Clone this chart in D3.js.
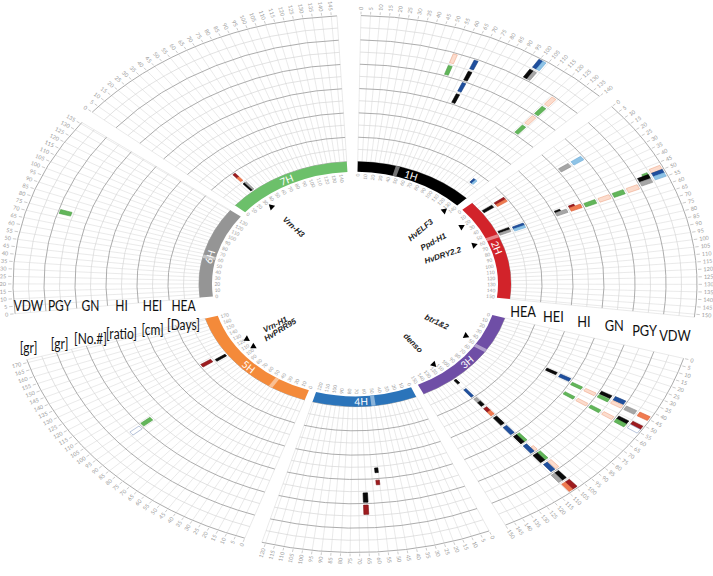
<!DOCTYPE html>
<html>
<head>
<meta charset="utf-8">
<script src="https://cdn.jsdelivr.net/npm/d3@7"></script>
<style>
  body { margin: 0; background: #fff; }
  svg { display: block; }
</style>
</head>
<body>
<div id="viz"></div>
<script>
// chromosomes, their length in cM and band colours
const chromosomes = ["1H", "2H", "3H", "4H", "5H", "6H", "7H"]
const chrLength = [140, 152, 150, 122, 172, 136, 148]
const chrColor = ["#000000", "#d2232a", "#6f4ea6", "#2b74ba", "#f48a3a", "#959595", "#6cc06a"]
const centromere = [47, 57, 53, 51, 44, 61, null]
const chrLabelPos = [66, 73, 80, 65, 83, 62, 72]

// traits (one track each, two lanes per track) and units
const traits = ["HEA", "HEI", "HI", "GN", "PGY", "VDW"]
const units = ["[Days]", "[cm]", "[ratio]", "[No.#]", "[gr]", "[gr]"]

// candidate genes: name, chromosome, position (cM)
const genes = [
  ["HvELF3", "1H", 134], ["Ppd-H1", "2H", 22], ["HvDRY2.2", "2H", 59],
  ["btr1&2", "3H", 46], ["denso", "3H", 114],
  ["HvPRR95", "5H", 104], ["Vrn-H1", "5H", 120], ["Vrn-H3", "7H", 31]
]

// QTL: chromosome, lane (0-11), from cM, to cM, group, part (0 full, -1 inner half, 1 outer half)
const qtl = [
  ["1H", 8, 55, 57.5, "green"], ["1H", 9, 55, 57.5, "peach"],
  ["1H", 6, 68, 70.5, "black"], ["1H", 7, 68, 70.5, "blue"], ["1H", 8, 68, 70.5, "black"], ["1H", 9, 68, 70.5, "blue"],
  ["1H", 10, 99, 101.5, "black"], ["1H", 10, 101.5, 103.5, "gray"], ["1H", 11, 99.5, 102, "blue"], ["1H", 11, 102, 104, "lblue"],
  ["1H", 6, 121, 124, "green"], ["1H", 7, 121, 124, "peach"], ["1H", 8, 121, 124, "green"], ["1H", 9, 121, 124, "peach"],
  ["1H", 1, 127, 129.5, "blue", -1], ["1H", 1, 129.5, 131.5, "lblue", -1],

  ["2H", 0, 16, 19.5, "black"], ["2H", 1, 15, 18, "red"], ["2H", 1, 18, 21, "orange"],
  ["2H", 0, 51, 54, "black"], ["2H", 0, 54, 57, "gray"], ["2H", 1, 52, 55, "blue"], ["2H", 1, 55, 58, "lblue"],
  ["2H", 6, 17.5, 21, "gray"], ["2H", 7, 17.5, 21, "lblue"],
  ["2H", 4, 51.5, 53.5, "black", -1], ["2H", 4, 53.5, 57, "gray"], ["2H", 5, 51.5, 53.5, "red", -1], ["2H", 5, 53.5, 57, "orange"],
  ["2H", 6, 54, 57.5, "green"], ["2H", 7, 54, 57.5, "peach"], ["2H", 8, 54, 57.5, "green"], ["2H", 9, 54, 57.5, "peach"],
  ["2H", 10, 48.5, 52, "green", 1], ["2H", 10, 50, 53, "black"], ["2H", 10, 53, 56, "gray"],
  ["2H", 11, 47, 50, "peach"], ["2H", 11, 50, 52.5, "blue"], ["2H", 11, 52.5, 55, "lblue"],

  ["3H", 0, 107, 110, "black", -1], ["3H", 1, 107, 110, "blue"],
  ["3H", 2, 106, 109.5, "gray", -1], ["3H", 2, 106, 109.5, "black", 1],
  ["3H", 3, 106, 109.5, "red", -1], ["3H", 3, 106, 109.5, "orange", 1],
  ["3H", 4, 106, 109.5, "black"], ["3H", 5, 106, 109.5, "blue"],
  ["3H", 6, 103.5, 106, "green"], ["3H", 6, 106, 109, "black"],
  ["3H", 7, 103.5, 105.5, "peach", 1], ["3H", 7, 106, 109, "blue"],
  ["3H", 8, 103, 105.5, "green"], ["3H", 8, 105.5, 109, "black"],
  ["3H", 9, 102.5, 105, "peach"], ["3H", 9, 105.5, 108.5, "blue"],
  ["3H", 10, 104.5, 107.5, "black"], ["3H", 10, 107.5, 110, "gray"],
  ["3H", 11, 104, 107, "red"], ["3H", 11, 107, 109.5, "orange"],
  ["3H", 4, 41, 43.5, "black"], ["3H", 5, 41, 44, "blue"], ["3H", 6, 43.5, 46, "green"], ["3H", 7, 43.5, 46, "peach"],
  ["3H", 8, 40.5, 43, "black"], ["3H", 8, 43.5, 46, "green"], ["3H", 9, 40, 43, "blue"], ["3H", 9, 43.5, 46, "peach"],
  ["3H", 10, 43, 46, "gray"], ["3H", 11, 43, 46, "orange"],
  ["3H", 6, 53.5, 56, "green"], ["3H", 7, 53.5, 56, "peach"], ["3H", 8, 53.5, 56, "green"], ["3H", 9, 53.5, 56, "peach"],
  ["3H", 10, 51.5, 54, "black"], ["3H", 10, 54, 56.5, "green"], ["3H", 11, 50.5, 53, "red"], ["3H", 11, 53, 56, "white"],

  ["4H", 5, 55, 57.5, "black", -1], ["4H", 6, 55, 57.5, "red", -1], ["4H", 7, 64, 67, "black"], ["4H", 8, 64, 67, "red"],

  ["5H", 0, 112, 115, "black"], ["5H", 1, 114, 118, "red"], ["5H", 7, 96, 99, "green"], ["5H", 8, 95, 98, "white"],

  ["6H", 9, 73, 76, "green"],

  ["7H", 0, 28, 30.5, "black"], ["7H", 0, 30.5, 32.5, "gray"], ["7H", 1, 28, 31, "red", 1], ["7H", 1, 28, 31, "orange", -1]
]

const qtlFill = { black: "#0a0a0a", gray: "#a6a6a6", blue: "#1f4f9e", lblue: "#8ec3e6", green: "#62b65a",
  peach: "#fcdccd", red: "#9e1b1e", orange: "#f07b50", white: "#ffffff" }
const qtlStroke = { black: "#000000", gray: "#8a8a8a", blue: "#173f80", lblue: "#6aaad6", green: "#4c9e45",
  peach: "#efaa8c", red: "#7a1014", orange: "#d8603a", white: "#8a9ec4" }

// layout
const width = 713, height = 576
const cx = 355, cy = 284, ky = 0.785
const r0 = 156, laneW = 15.5, nLanes = 12, r1 = r0 + nLanes * laneW
const bandIn = 143
const degPerCM = 0.3188
const gapAfter = [3, 9, 3, 3, 10, 2.8, 4]

let a = 1.0
const chrScale = chromosomes.map((c, i) => {
  const s = d3.scaleLinear().domain([0, chrLength[i]]).range([a, a + chrLength[i] * degPerCM])
  a += chrLength[i] * degPerCM + gapAfter[i]
  return s
})
const chrIndex = c => chromosomes.indexOf(c)
const laneScale = d3.scaleLinear().domain([0, nLanes]).range([r0, r1])

const rad = d => d * Math.PI / 180
const xy = (deg, r) => [r * Math.sin(rad(deg)), -r * Math.cos(rad(deg)) * ky]
const radialRot = deg => Math.atan2(-Math.cos(rad(deg)) * ky, Math.sin(rad(deg))) * 180 / Math.PI
const tangentRot = deg => Math.atan2(Math.sin(rad(deg)) * ky, Math.cos(rad(deg))) * 180 / Math.PI

const svg = d3.select("#viz").append("svg")
  .attr("width", width)
  .attr("height", height)
  .style("background", "#fff")

// gs: drawn in a circle, squashed vertically; gt: texts, unsquashed
const gs = svg.append("g").attr("transform", `translate(${cx},${cy}) scale(1,${ky})`)
const gt = svg.append("g").attr("transform", `translate(${cx},${cy})`)
const font = "Lato, 'Liberation Sans', sans-serif"

// grid of each sector
chromosomes.forEach((chr, i) => {
  const s = chrScale[i]
  const [d0, d1] = s.range()
  const g = gs.append("g")
  const cms = d3.range(0, chrLength[i] + 0.01, 5)
  if (chrLength[i] % 5 !== 0) cms.push(chrLength[i])

  g.selectAll("line").data(cms).join("line")
    .attr("x1", cm => r0 * Math.sin(rad(s(cm))))
    .attr("y1", cm => -r0 * Math.cos(rad(s(cm))))
    .attr("x2", cm => r1 * Math.sin(rad(s(cm))))
    .attr("y2", cm => -r1 * Math.cos(rad(s(cm))))
    .attr("stroke", "#e1e1e1")
    .attr("stroke-width", 0.7)
    .attr("vector-effect", "non-scaling-stroke")

  g.selectAll("path").data(d3.range(nLanes + 1)).join("path")
    .attr("d", k => {
      const p = d3.path()
      p.arc(0, 0, laneScale(k), rad(d0 - 90), rad(d1 - 90))
      return p.toString()
    })
    .attr("fill", "none")
    .attr("stroke", k => k % 2 === 0 ? "#a3a3a3" : "#d6d6d6")
    .attr("stroke-width", k => k % 2 === 0 ? 0.9 : 0.7)
    .attr("vector-effect", "non-scaling-stroke")

  // outer position ticks and labels
  const tk = d3.range(0, chrLength[i] + 0.01, 5)
  gt.append("g").selectAll("line").data(tk).join("line")
    .attr("x1", cm => xy(s(cm), r1 + 1.5)[0]).attr("y1", cm => xy(s(cm), r1 + 1.5)[1])
    .attr("x2", cm => xy(s(cm), r1 + 5)[0]).attr("y2", cm => xy(s(cm), r1 + 5)[1])
    .attr("stroke", "#aaa").attr("stroke-width", 0.6)
  gt.append("g").selectAll("text").data(tk).join("text")
    .attr("transform", cm => {
      const d = s(cm), p = xy(d, r1 + 7)
      return `translate(${p[0]},${p[1]}) rotate(${radialRot(d) + (d >= 180 ? 180 : 0)})`
    })
    .attr("text-anchor", cm => s(cm) >= 180 ? "end" : "start")
    .attr("dominant-baseline", "central")
    .attr("font-family", font).attr("font-size", 5.5).attr("fill", "#9a9a9a")
    .text(cm => cm)
})

// QTL bars
const barArc = d3.arc()
gs.append("g").selectAll("path").data(qtl).join("path")
  .attr("d", q => {
    const s = chrScale[chrIndex(q[0])]
    const part = q[5] || 0
    let rin = laneScale(q[1]) + 1.8, rout = laneScale(q[1] + 1) - 1.8
    const mid = (rin + rout) / 2
    if (part < 0) rout = mid
    if (part > 0) rin = mid
    return barArc({ innerRadius: rin, outerRadius: rout, startAngle: rad(s(q[2])), endAngle: rad(s(q[3])) })
  })
  .attr("fill", q => qtlFill[q[4]])
  .attr("stroke", q => qtlStroke[q[4]])
  .attr("stroke-width", 0.6)
  .attr("vector-effect", "non-scaling-stroke")

// chromosome bands
const bandArc = d3.arc().innerRadius(bandIn).outerRadius(r0)
const gb = gs.append("g")
gb.selectAll("path.band").data(chromosomes).join("path")
  .attr("class", "band")
  .attr("d", (c, i) => bandArc({ startAngle: rad(chrScale[i].range()[0]), endAngle: rad(chrScale[i].range()[1]) }))
  .attr("fill", (c, i) => chrColor[i])
gb.selectAll("path.cen").data(chromosomes.filter((c, i) => centromere[i] !== null)).join("path")
  .attr("class", "cen")
  .attr("d", c => {
    const i = chrIndex(c)
    return bandArc({ startAngle: rad(chrScale[i](centromere[i] - 2.5)), endAngle: rad(chrScale[i](centromere[i] + 2.5)) })
  })
  .attr("fill", c => d3.interpolateRgb(chrColor[chrIndex(c)], "#ffffff")(0.45))

// chromosome names
gt.append("g").selectAll("text").data(chromosomes).join("text")
  .attr("transform", (c, i) => {
    const d = chrScale[i](chrLabelPos[i]), p = xy(d, (bandIn + r0) / 2)
    const rot = tangentRot(d) + (d > 90 && d < 270 ? 180 : 0)
    return `translate(${p[0]},${p[1]}) rotate(${rot})`
  })
  .attr("text-anchor", "middle").attr("dominant-baseline", "central")
  .attr("font-family", font).attr("font-size", 10).attr("fill", "#fff")
  .text(c => c)

// inner position labels
chromosomes.forEach((chr, i) => {
  const s = chrScale[i]
  gt.append("g").selectAll("text").data(d3.range(0, chrLength[i] + 0.01, 10)).join("text")
    .attr("transform", cm => {
      const d = s(cm), p = xy(d, bandIn - 2.5)
      return `translate(${p[0]},${p[1]}) rotate(${radialRot(d) + (d >= 180 ? 180 : 0)})`
    })
    .attr("text-anchor", cm => s(cm) >= 180 ? "start" : "end")
    .attr("dominant-baseline", "central")
    .attr("font-family", font).attr("font-size", 4.8).attr("fill", "#9a9a9a")
    .text(cm => cm)
})

// candidate genes
const gg = gt.append("g")
gg.selectAll("path").data(genes).join("path")
  .attr("d", d3.symbol(d3.symbolTriangle).size(18))
  .attr("transform", g => {
    const d = chrScale[chrIndex(g[1])](g[2]), p = xy(d, 129)
    return `translate(${p[0]},${p[1]}) rotate(${radialRot(d) + 90})`
  })
  .attr("fill", "#000")
gg.selectAll("text").data(genes).join("text")
  .attr("transform", g => {
    const d = chrScale[chrIndex(g[1])](g[2]), p = xy(d, 95)
    return `translate(${p[0]},${p[1]}) rotate(${radialRot(d) + (d >= 180 ? 180 : 0)})`
  })
  .attr("text-anchor", "middle").attr("dominant-baseline", "central")
  .attr("font-family", "'Liberation Sans', Arial, sans-serif")
  .attr("font-size", 8).attr("font-weight", "bold").attr("font-style", "italic")
  .attr("fill", "#222")
  .text(g => g[0])

// trait labels, right side along the gap
const trackCenter = i => laneScale(2 * i + 1)
gt.append("g").selectAll("text").data(traits).join("text")
  .attr("transform", (t, i) => {
    const p = xy(101.5, trackCenter(i))
    return `translate(${p[0]},${p[1]}) scale(0.8,1)`
  })
  .attr("text-anchor", "middle").attr("dominant-baseline", "central")
  .attr("font-family", font).attr("font-size", 16).attr("fill", "#111")
  .text(t => t)

// trait labels and units, left side
gt.append("g").selectAll("text").data(traits).join("text")
  .attr("transform", (t, i) => `translate(${-trackCenter(i)},21) scale(0.8,1)`)
  .attr("text-anchor", "middle").attr("dominant-baseline", "central")
  .attr("font-family", font).attr("font-size", 15).attr("fill", "#111")
  .text(t => t)
gt.append("g").selectAll("text").data(units).join("text")
  .attr("transform", (u, i) => `translate(${-trackCenter(i)},${14.5 + 0.151 * trackCenter(i)}) scale(0.8,1)`)
  .attr("text-anchor", "middle").attr("dominant-baseline", "central")
  .attr("font-family", font).attr("font-size", 15).attr("fill", "#111")
  .text(u => u)
</script>
</body>
</html>
